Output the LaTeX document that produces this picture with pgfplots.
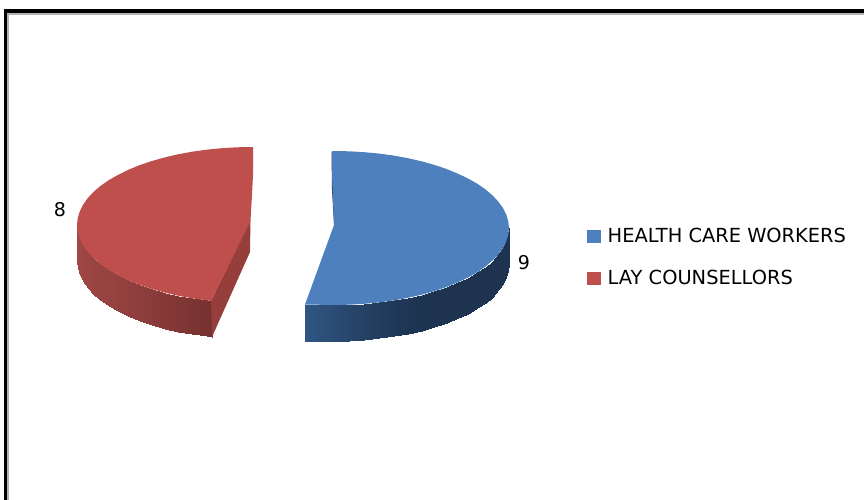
\documentclass[border=0pt]{standalone}
\usepackage{fontspec}
\setmainfont{DejaVu Sans}
\usepackage{pgfplots}
\pgfplotsset{compat=1.18}
\definecolor{piered}{RGB}{190,79,77}
\definecolor{pieblue}{RGB}{78,128,189}
\definecolor{redside}{RGB}{149,62,60}
\definecolor{bluedark}{RGB}{29,51,80}
\pgfplotsset{
  colormap={redwall}{rgb255=(160,72,70) rgb255=(118,49,48)},
  colormap={bluewall}{rgb255=(29,51,80) rgb255=(48,86,132)},
}
\begin{document}
\begin{tikzpicture}
\useasboundingbox (0,0) rectangle (864pt,500pt);
\begin{axis}[
    at={(0,0)}, anchor=south west,
    width=864pt, height=500pt,
    scale only axis,
    hide axis,
    xmin=0, xmax=864,
    ymin=0, ymax=500,
    y dir=reverse,
    point meta min=0, point meta max=1,
    legend style={at={(axis cs:587,226)}, anchor=north west, draw=none, fill=none,
        font=\fontsize{19.4}{22}\selectfont, row sep=22pt, column sep=4.5pt, inner sep=0pt},
    legend cell align=left,
    legend image code/.code={\fill[#1] (0pt,-6.5pt) rectangle (14pt,6.5pt);},
]
% frame of the picture
\addplot[forget plot, black, line width=3.8pt] coordinates {(5.6,520) (5.6,11.2) (880,11.2)};
\addplot[forget plot, black!30, line width=2pt] coordinates {(8.3,520) (8.3,14.2) (880,14.2)};

% side walls
\addplot[forget plot, surf, shader=interp, colormap name=bluewall, mesh/rows=2, mesh/cols=20, point meta=\thisrow{c}]
  table {
x y c
509 228 0
508.3 234.7 0
506.3 241.4 0
503 247.9 0
498.4 254.3 0
492.6 260.5 0
485.6 266.5 0
477.4 272.2 0
468 277.5 0
457.7 282.4 0
446.5 287 0
434.4 291.1 0
421.5 294.7 0
408 297.8 0.07
393.9 300.4 0.15
379.3 302.4 0.27
364.4 303.8 0.4
349.3 304.7 0.55
334 305 0.7
305 304.5 1
509 264 0
508.3 270.7 0
506.3 277.4 0
503 283.9 0
498.4 290.3 0
492.6 296.5 0
485.6 302.5 0
477.4 308.2 0
468 313.5 0
457.7 318.4 0
446.5 323 0
434.4 327.1 0
421.5 330.7 0
408 333.8 0.07
393.9 336.4 0.15
379.3 338.4 0.27
364.4 339.8 0.4
349.3 340.7 0.55
334 341 0.7
305 341 1
};
\addplot[forget plot, surf, shader=interp, colormap name=redwall, mesh/rows=2, mesh/cols=17, point meta=\thisrow{c}]
  table {
x y c
77 225 0
77.7 231.8 0.02
79.7 238.5 0.05
83 245.2 0.07
87.6 251.7 0.1
93.4 258 0.15
100.4 264 0.2
108.6 269.7 0.25
118 275.1 0.3
128.3 280.2 0.37
139.5 284.8 0.45
151.6 288.9 0.55
164.5 292.5 0.65
178 295.7 0.75
192.1 298.3 0.85
206.7 300.3 0.95
211 301 1
77 261 0
77.7 267.8 0.02
79.7 274.5 0.05
83 281.2 0.07
87.6 287.7 0.1
93.4 294 0.15
100.4 300 0.2
108.6 305.7 0.25
118 311.1 0.3
128.3 316.2 0.37
139.5 320.8 0.45
151.6 324.9 0.55
164.5 328.5 0.65
178 331.7 0.75
192.1 334.3 0.85
206.7 336.3 0.95
212 337 1
};
\addplot[forget plot, fill=redside, draw=none] coordinates {(211,301) (250.5,220) (250,252) (212,337) (211,301)};
\addplot[forget plot, bluedark, line width=1pt] coordinates {(332,152) (332.5,190) (334.5,224)};

% top faces
\addplot[fill=pieblue, draw=none] coordinates {
 (332,151) (334,151) (349.3,151.3) (364.4,152.2) (379.3,153.6) (393.9,155.6) (408,158.2)
 (421.5,161.3) (434.4,164.9) (446.5,169) (457.7,173.6) (468,178.5) (477.4,183.8)
 (485.6,189.5) (492.6,195.5) (498.4,201.7) (503,208.1) (506.3,214.6) (508.3,221.3)
 (509,228) (508.3,234.7) (506.3,241.4) (503,247.9) (498.4,254.3) (492.6,260.5)
 (485.6,266.5) (477.4,272.2) (468,277.5) (457.7,282.4) (446.5,287) (434.4,291.1)
 (421.5,294.7) (408,297.8) (393.9,300.4) (379.3,302.4) (364.4,303.8) (349.3,304.7)
 (334,305) (305,304.5) (334,225) (333,200) (332,175) (332,151)};
\addlegendentry{HEALTH CARE WORKERS}
\addplot[fill=piered, draw=none] coordinates {
 (253,147) (252,147) (236.7,147.3) (221.6,148.2) (206.7,149.7) (192.1,151.7) (178,154.3)
 (164.5,157.5) (151.6,161.1) (139.5,165.2) (128.3,169.8) (118,174.9) (108.6,180.3)
 (100.4,186) (93.4,192) (87.6,198.3) (83,204.8) (79.7,211.5) (77.7,218.2) (77,225)
 (77.7,231.8) (79.7,238.5) (83,245.2) (87.6,251.7) (93.4,258) (100.4,264) (108.6,269.7)
 (118,275.1) (128.3,280.2) (139.5,284.8) (151.6,288.9) (164.5,292.5) (178,295.7)
 (192.1,298.3) (206.7,300.3) (211,301) (250.5,221) (252,195) (253,175) (253,147)};
\addlegendentry{LAY COUNSELLORS}

\node[font=\fontsize{19}{22}\selectfont] at (axis cs:60,210) {8};
\node[font=\fontsize{19}{22}\selectfont] at (axis cs:524,263) {9};
\end{axis}
\end{tikzpicture}
\end{document}
